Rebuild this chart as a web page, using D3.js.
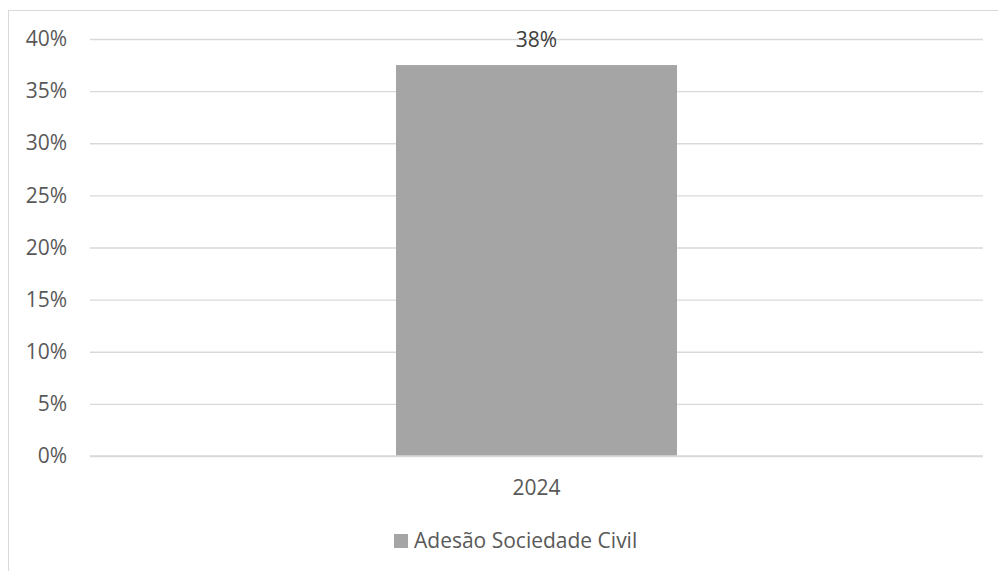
<!DOCTYPE html>
<html><head><meta charset="utf-8">
<script src="https://cdn.jsdelivr.net/npm/d3@7"></script>
<style>body{margin:0;background:#fff;} svg{display:block;}</style>
</head><body>
<svg id="c" width="998" height="571"></svg>
<script>
const categories = ["2024"];
const values = [0.375];
const valueLabels = ["38%"];
const seriesName = "Adesão Sociedade Civil";
const yTicks = [0, 0.05, 0.10, 0.15, 0.20, 0.25, 0.30, 0.35, 0.40];

const svg = d3.select("#c");
const font = "'Open Sans', sans-serif";
const textColor = "#595959";
const barColor = "#A5A5A5";
const gridColor = "#D9D9D9";

svg.append("rect").attr("x", 8.5).attr("y", 10.5).attr("width", 1100).attr("height", 700)
  .attr("fill", "#fff").attr("stroke", gridColor).attr("stroke-width", 1);

const mLeft = 90, mRight = 983, mTop = 39, mBottom = 456;
const y = d3.scaleLinear().domain([0, 0.40]).range([mBottom, mTop]);
const xb = d3.scaleBand().domain(categories).range([mLeft, mRight]).padding(0);
const barW = 281;

const yAxis = d3.axisLeft(y).tickValues(yTicks).tickFormat(d3.format(".0%")).tickSize(-(mRight-mLeft)).tickPadding(23);
const gy = svg.append("g").attr("transform", `translate(${mLeft},0)`).call(yAxis);
gy.select(".domain").remove();
gy.selectAll(".tick line").attr("stroke", gridColor).attr("stroke-width", 1.3);
gy.selectAll(".tick text").attr("fill", textColor).style("font-family", font).style("font-size", "21px");

svg.selectAll("rect.bar").data(values).enter().append("rect").attr("class", "bar")
  .attr("x", (d, i) => xb(categories[i]) + xb.bandwidth()/2 - barW/2)
  .attr("width", barW)
  .attr("y", d => y(d))
  .attr("height", d => y(0) - y(d))
  .attr("fill", barColor);

svg.append("line").attr("x1", mLeft).attr("x2", mRight).attr("y1", y(0)).attr("y2", y(0))
  .attr("stroke", gridColor).attr("stroke-width", 1.3);

svg.selectAll("text.vl").data(values).enter().append("text").attr("class", "vl")
  .attr("x", (d, i) => xb(categories[i]) + xb.bandwidth()/2)
  .attr("y", 47)
  .attr("text-anchor", "middle").attr("fill", "#404040")
  .style("font-family", font).style("font-size", "21px")
  .text((d, i) => valueLabels[i]);

const xAxis = d3.axisBottom(xb).tickSize(0).tickPadding(0);
const gx = svg.append("g").attr("transform", `translate(0,${mBottom})`).call(xAxis);
gx.select(".domain").remove();
gx.selectAll(".tick text").attr("fill", textColor).attr("dy", 0).attr("y", 39)
  .style("font-family", font).style("font-size", "21px");

const lg = svg.append("g");
lg.append("rect").attr("x", 394).attr("y", 534).attr("width", 14).attr("height", 14).attr("fill", barColor);
lg.append("text").attr("x", 414).attr("y", 548).attr("fill", textColor)
  .style("font-family", font).style("font-size", "21px").text(seriesName);
</script>
</body></html>
